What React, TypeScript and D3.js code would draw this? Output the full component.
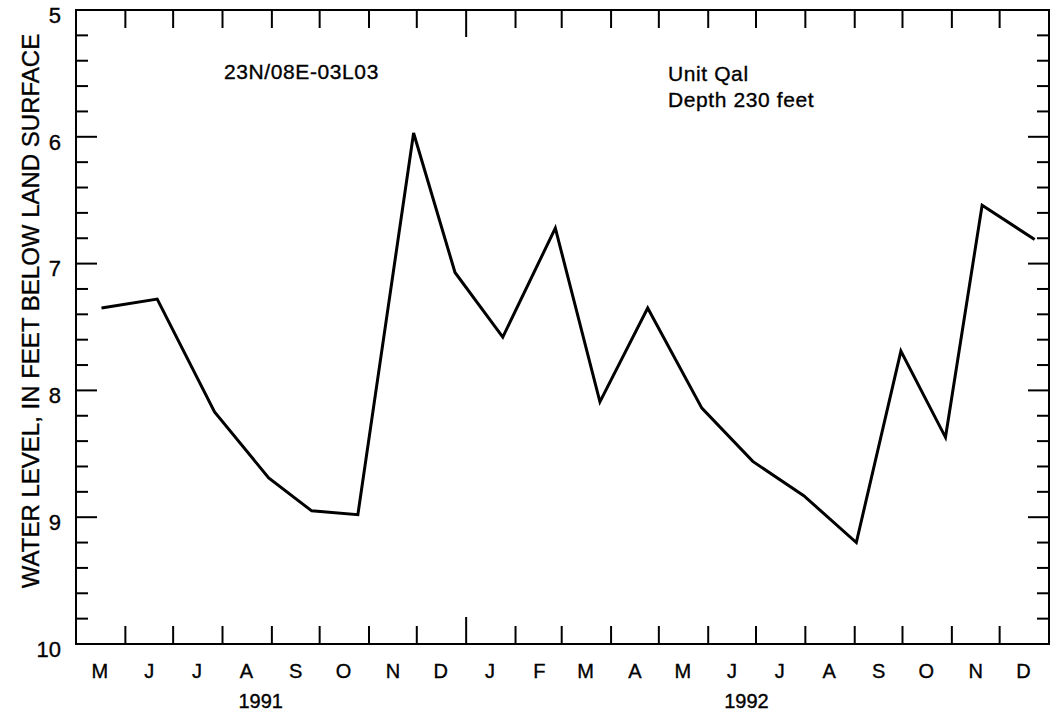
import * as d3 from "d3";
import { useRef, useEffect } from "react";

const sampleDates = [
  "1991-05-17", "1991-06-21", "1991-07-27", "1991-08-30", "1991-09-26",
  "1991-10-25", "1991-11-29", "1991-12-25", "1992-01-24", "1992-02-26",
  "1992-03-25", "1992-04-24", "1992-05-28", "1992-06-29", "1992-07-31",
  "1992-09-02", "1992-09-30", "1992-10-28", "1992-11-20", "1992-12-23",
];
const waterLevels = [
  7.35, 7.28, 8.17, 8.69, 8.95,
  8.98, 5.97, 7.07, 7.58, 6.72,
  8.09, 7.35, 8.14, 8.56, 8.83,
  9.2, 7.69, 8.37, 6.54, 6.81,
];

const monthLabels = ["M", "J", "J", "A", "S", "O", "N", "D", "J", "F", "M", "A", "M", "J", "J", "A", "S", "O", "N", "D"];
const yearLabels = ["1991", "1992"];
const yearLabelDates = ["1991-08-25", "1992-06-25"];
const yMajorTicks = [5, 6, 7, 8, 9, 10];
const yMinorTicks = d3.range(5, 10.001, 0.2);

const wellName = "23N/08E-03L03";
const unitLines = ["Unit Qal", "Depth 230 feet"];
const yTitle = "WATER LEVEL, IN FEET BELOW LAND SURFACE";

function App() {
  const ref = useRef<SVGSVGElement | null>(null);
  const width = 1056, height = 715;
  const margin = { left: 76, right: 7, top: 10, bottom: 71 };
  const font = "'Liberation Sans', Arial, Helvetica, sans-serif";

  useEffect(() => {
    const svg = d3.select(ref.current);
    svg.selectAll("*").remove();

    const x = d3.scaleTime()
      .domain([new Date(1991, 4, 1), new Date(1993, 0, 1)])
      .range([margin.left, width - margin.right]);
    const y = d3.scaleLinear()
      .domain([5, 10])
      .range([margin.top, height - margin.bottom]);

    const months = d3.timeMonth.range(new Date(1991, 4, 1), new Date(1993, 0, 1));
    const innerTicks = months.slice(1);
    const yearStart = new Date(1992, 0, 1);

    svg.append("rect")
      .attr("width", width).attr("height", height).attr("fill", "#fff");

    const g = svg.append("g")
      .attr("font-family", font)
      .attr("fill", "#000");
    // text looks a bit heavy in the scan
    const txt = g.append("g").attr("stroke", "#000").attr("stroke-width", 0.35);

    // frame
    g.append("rect")
      .attr("x", x.range()[0]).attr("y", y.range()[0])
      .attr("width", x.range()[1] - x.range()[0])
      .attr("height", y.range()[1] - y.range()[0])
      .attr("fill", "none").attr("stroke", "#000").attr("stroke-width", 2);

    // month ticks, bottom and top (longer at the year boundary)
    const tickLen = (d: Date) => (+d === +yearStart ? 27 : 18);
    g.selectAll("line.xb").data(innerTicks).join("line")
      .attr("x1", (d) => x(d)).attr("x2", (d) => x(d))
      .attr("y1", y(10)).attr("y2", (d) => y(10) - tickLen(d))
      .attr("stroke", "#000").attr("stroke-width", 2);
    g.selectAll("line.xt").data(innerTicks).join("line")
      .attr("x1", (d) => x(d)).attr("x2", (d) => x(d))
      .attr("y1", y(5)).attr("y2", (d) => y(5) + tickLen(d))
      .attr("stroke", "#000").attr("stroke-width", 2);

    // y ticks, both sides
    const isMajor = (v: number) => Math.abs(v - Math.round(v)) < 1e-6;
    const yTickLen = (v: number) => (isMajor(v) ? 21 : 12);
    const yt = yMinorTicks.filter((v) => v > 5.01 && v < 9.99);
    g.selectAll("line.yl").data(yt).join("line")
      .attr("x1", x.range()[0]).attr("x2", (v) => x.range()[0] + yTickLen(v))
      .attr("y1", (v) => y(v)).attr("y2", (v) => y(v))
      .attr("stroke", "#000").attr("stroke-width", 2);
    g.selectAll("line.yr").data(yt).join("line")
      .attr("x1", x.range()[1]).attr("x2", (v) => x.range()[1] - yTickLen(v))
      .attr("y1", (v) => y(v)).attr("y2", (v) => y(v))
      .attr("stroke", "#000").attr("stroke-width", 2);

    // y tick labels
    txt.selectAll("text.ylab").data(yMajorTicks).join("text")
      .attr("x", x.range()[0] - 15)
      .attr("y", (v) => y(v))
      .attr("dy", "0.58em")
      .attr("text-anchor", "end")
      .style("font-size", "22px")
      .text((v) => v);

    // month labels
    txt.selectAll("text.mlab").data(months).join("text")
      .attr("x", (d) => x(d3.timeDay.offset(d, 15)))
      .attr("y", 678)
      .attr("text-anchor", "middle")
      .style("font-size", "20px")
      .text((d, i) => monthLabels[i]);

    // year labels
    txt.selectAll("text.yr").data(yearLabels).join("text")
      .attr("x", (d, i) => x(new Date(yearLabelDates[i] + "T00:00")))
      .attr("y", 708)
      .attr("text-anchor", "middle")
      .style("font-size", "20px")
      .text((d) => d);

    // y title
    txt.append("text")
      .attr("transform", `translate(39, 311) rotate(-90)`)
      .attr("text-anchor", "middle")
      .style("font-size", "24px")
      .text(yTitle);

    // annotations
    txt.append("text")
      .attr("x", 224).attr("y", 79)
      .style("font-size", "21px")
      .style("letter-spacing", "0.6px")
      .text(wellName);
    txt.selectAll("text.unit").data(unitLines).join("text")
      .attr("x", 668).attr("y", (d, i) => 81 + i * 26)
      .style("font-size", "21px")
      .style("letter-spacing", "0.6px")
      .text((d) => d);

    // hydrograph line
    const pts = sampleDates.map((d, i) => ({ date: new Date(d + "T00:00"), level: waterLevels[i] }));
    const line = d3.line<{ date: Date; level: number }>()
      .x((d) => x(d.date))
      .y((d) => y(d.level));
    g.append("path")
      .datum(pts)
      .attr("fill", "none")
      .attr("stroke", "#000")
      .attr("stroke-width", 3)
      .attr("stroke-linejoin", "miter")
      .attr("d", line);
  });

  return (
    <svg
      ref={ref}
      width={width}
      height={height}
      style={{ position: "absolute", left: 0, top: 0, display: "block" }}
    />
  );
}

export default App;
